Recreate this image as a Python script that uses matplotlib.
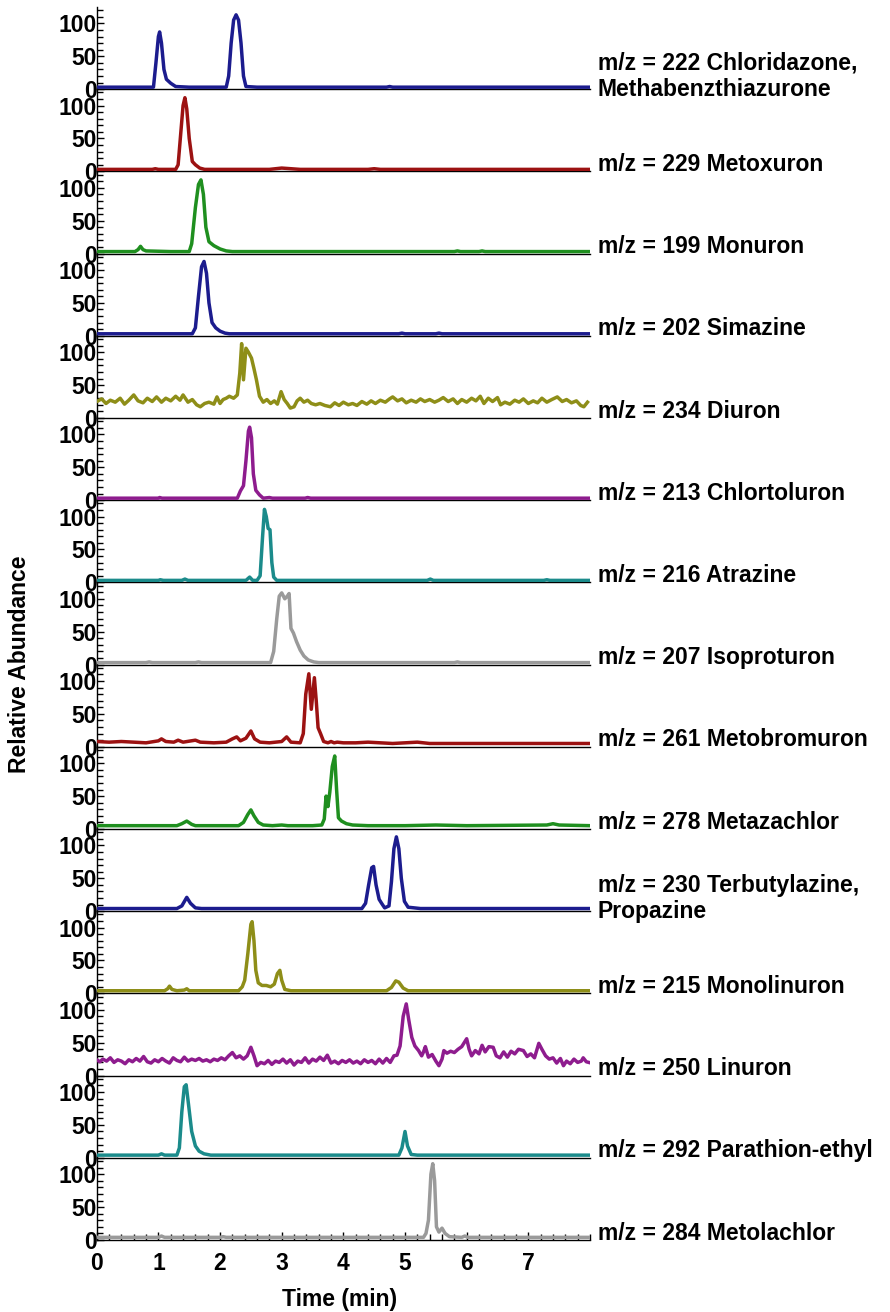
import matplotlib
matplotlib.use("Agg")
import matplotlib.pyplot as plt
from matplotlib.ticker import MultipleLocator

plt.rcParams['font.family'] = ['Liberation Sans', 'DejaVu Sans']
plt.rcParams['font.weight'] = 'bold'

# ion chromatograms (time in min, relative abundance)
t_222 = [0, 0.4, 0.8, 0.92, 0.96, 1.0, 1.02, 1.05, 1.09, 1.13, 1.2, 1.28, 1.5, 2.0, 2.1, 2.14, 2.18, 2.22, 2.26, 2.30, 2.34, 2.38, 2.42, 2.6, 3.5, 4.7, 4.75, 4.8, 6.0, 8.0]
y_222 = [3, 3, 3, 3, 40, 80, 87, 70, 30, 15, 9, 4, 3, 3, 3, 20, 70, 105, 113, 105, 70, 20, 4, 3, 3, 3, 4, 3, 3, 3]

t_229 = [0, 0.9, 0.95, 1.0, 1.28, 1.32, 1.36, 1.40, 1.43, 1.46, 1.5, 1.55, 1.6, 1.67, 1.75, 2.8, 2.9, 3.0, 3.15, 3.3, 4.4, 4.5, 4.6, 8.0]
y_229 = [3, 3, 4, 3, 3, 10, 55, 100, 112, 95, 50, 15, 10, 5, 3, 3, 4, 5, 4, 3, 3, 4, 3, 3]

t_199 = [0, 0.62, 0.67, 0.71, 0.75, 0.8, 1.2, 1.5, 1.54, 1.6, 1.65, 1.69, 1.73, 1.77, 1.82, 1.9, 2.0, 2.1, 2.2, 5.8, 5.85, 5.9, 6.2, 6.25, 6.3, 8.0]
y_199 = [3, 3, 6, 11, 6, 4, 3, 3, 15, 70, 105, 112, 90, 40, 18, 12, 7, 4, 3, 3, 4, 3, 3, 4, 3, 3]

t_202 = [0, 1.55, 1.6, 1.65, 1.7, 1.74, 1.78, 1.82, 1.87, 1.93, 2.0, 2.08, 2.15, 4.9, 4.95, 5.0, 5.5, 5.55, 5.6, 8.0]
y_202 = [3, 3, 12, 60, 105, 113, 95, 50, 20, 12, 7, 4, 3, 3, 4, 3, 3, 4, 3, 3]

t_234 = [0.00, 0.08, 0.15, 0.22, 0.30, 0.38, 0.45, 0.52, 0.60, 0.67, 0.75, 0.82, 0.90, 0.97, 1.05, 1.12, 1.20, 1.28, 1.35, 1.40,
         1.48, 1.55, 1.62, 1.68, 1.75, 1.82, 1.90, 1.95, 2.00, 2.05, 2.10, 2.15, 2.22, 2.28, 2.32, 2.35, 2.38, 2.42, 2.46, 2.51,
         2.55, 2.59, 2.64, 2.70, 2.76, 2.82, 2.88, 2.93, 2.99, 3.04, 3.09, 3.14, 3.20, 3.25, 3.30, 3.36, 3.42, 3.48, 3.55, 3.62,
         3.70, 3.79, 3.86, 3.93, 4.00, 4.08, 4.15, 4.22, 4.30, 4.38, 4.45, 4.52, 4.60, 4.68, 4.75, 4.80, 4.88, 4.95, 5.02, 5.10,
         5.18, 5.25, 5.32, 5.40, 5.48, 5.55, 5.62, 5.70, 5.78, 5.85, 5.92, 6.00, 6.08, 6.15, 6.22, 6.28, 6.35, 6.42, 6.50, 6.55,
         6.62, 6.70, 6.78, 6.85, 6.92, 7.00, 7.08, 7.15, 7.22, 7.30, 7.38, 7.47, 7.55, 7.62, 7.70, 7.78, 7.85, 7.90, 7.96]
y_234 = [25, 29, 22, 27, 24, 30, 21, 27, 35, 26, 23, 30, 25, 32, 24, 30, 26, 33, 27, 35,
         24, 28, 20, 17, 22, 24, 21, 32, 22, 28, 30, 33, 30, 35, 68, 113, 58, 106, 100, 91,
         75, 58, 33, 24, 28, 22, 26, 21, 40, 28, 22, 15, 17, 26, 30, 24, 27, 22, 20, 22,
         19, 17, 23, 19, 24, 20, 22, 19, 25, 21, 26, 22, 27, 24, 29, 32, 26, 29, 23, 27,
         24, 29, 25, 28, 24, 27, 31, 25, 29, 22, 28, 24, 30, 26, 33, 22, 30, 25, 31, 20,
         24, 21, 27, 24, 29, 22, 26, 23, 30, 24, 28, 32, 25, 28, 23, 26, 19, 17, 24]

t_213 = [0, 1.0, 1.02, 1.06, 2.28, 2.33, 2.38, 2.42, 2.46, 2.48, 2.51, 2.54, 2.58, 2.64, 2.7, 2.8, 2.85, 3.38, 3.42, 3.47, 8.0]
y_213 = [3, 3, 4, 3, 3, 14, 22, 60, 105, 111, 95, 40, 15, 8, 3, 4, 3, 3, 4, 3, 3]

t_216 = [0, 1.0, 1.03, 1.08, 1.38, 1.43, 1.48, 2.42, 2.48, 2.53, 2.6, 2.65, 2.69, 2.72, 2.75, 2.78, 2.81, 2.84, 2.87, 2.92,
         5.36, 5.41, 5.46, 7.25, 7.3, 7.35, 8.0]
y_216 = [3, 3, 4, 3, 3, 5, 3, 3, 8, 3, 3, 10, 70, 111, 100, 82, 80, 30, 8, 3,
         3, 5, 3, 3, 4, 3, 3]

t_207 = [0, 0.8, 0.85, 0.9, 1.6, 1.65, 1.7, 2.82, 2.87, 2.92, 2.96, 3.0, 3.05, 3.09, 3.12, 3.15, 3.19, 3.24, 3.3, 3.36,
         3.43, 3.52, 3.6, 5.8, 5.85, 5.9, 8.0]
y_207 = [3, 3, 4, 3, 3, 4, 3, 3, 20, 70, 104, 109, 100, 104, 108, 55, 48, 35, 22, 13,
         7, 4, 3, 3, 4, 3, 3]

t_261 = [0, 0.2, 0.4, 0.6, 0.8, 1.0, 1.05, 1.12, 1.25, 1.32, 1.4, 1.6, 1.68, 1.9, 2.1, 2.2, 2.27, 2.33, 2.42, 2.5,
         2.56, 2.65, 2.8, 3.0, 3.08, 3.15, 3.3, 3.35, 3.39, 3.44, 3.48, 3.53, 3.56, 3.59, 3.63, 3.68, 3.75, 3.8, 3.85, 3.9,
         4.0, 4.2, 4.4, 4.6, 4.8, 5.0, 5.2, 5.4, 5.6, 6.0, 6.4, 6.8, 7.2, 7.6, 8.0]
y_261 = [8, 7, 8, 7, 6, 9, 12, 8, 7, 10, 7, 10, 7, 6, 7, 12, 15, 9, 13, 24,
         12, 7, 6, 8, 15, 7, 6, 20, 80, 111, 57, 105, 70, 29, 20, 8, 6, 8, 6, 7,
         6, 6, 7, 6, 5, 6, 7, 5, 5, 5, 5, 5, 5, 5, 5]

t_278 = [0, 0.5, 1.0, 1.3, 1.38, 1.46, 1.54, 1.6, 2.0, 2.3, 2.38, 2.45, 2.5, 2.55, 2.62, 2.7, 2.85, 3.0, 3.1, 3.5,
         3.65, 3.69, 3.72, 3.75, 3.78, 3.82, 3.86, 3.89, 3.92, 3.97, 4.05, 4.15, 4.4, 5.0, 5.5, 6.0, 7.3, 7.4, 7.5, 8.0]
y_278 = [5, 5, 5, 5, 8, 12, 7, 5, 5, 5, 10, 22, 29, 20, 10, 6, 5, 6, 5, 5,
         6, 15, 50, 34, 56, 95, 111, 60, 17, 12, 8, 6, 5, 5, 6, 5, 6, 8, 6, 5]

t_230 = [0, 1.3, 1.38, 1.46, 1.52, 1.6, 1.7, 4.3, 4.36, 4.41, 4.46, 4.49, 4.53, 4.58, 4.62, 4.67, 4.74, 4.78, 4.82, 4.86,
         4.9, 4.94, 4.99, 5.05, 5.15, 5.25, 8.0]
y_230 = [4, 4, 8, 21, 12, 5, 4, 4, 12, 40, 66, 68, 40, 18, 12, 5, 8, 45, 95, 113,
         95, 50, 15, 6, 5, 4, 4]

t_215 = [0, 1.1, 1.15, 1.18, 1.22, 1.3, 1.42, 1.46, 1.5, 2.3, 2.36, 2.4, 2.45, 2.5, 2.52, 2.55, 2.58, 2.62, 2.68, 2.75,
         2.82, 2.88, 2.93, 2.97, 3.0, 3.05, 3.15, 4.7, 4.78, 4.85, 4.9, 4.97, 5.05, 8.0]
y_215 = [4, 4, 7, 11, 6, 4, 5, 7, 4, 4, 10, 20, 60, 105, 109, 80, 35, 16, 12, 12,
         10, 14, 30, 35, 20, 6, 4, 4, 9, 19, 17, 8, 4, 4]

t_250 = [0.00, 0.05, 0.10, 0.16, 0.22, 0.28, 0.34, 0.40, 0.46, 0.52, 0.58, 0.64, 0.70, 0.76, 0.82, 0.88, 0.94, 1.00, 1.06, 1.12,
         1.18, 1.24, 1.30, 1.36, 1.42, 1.48, 1.54, 1.60, 1.66, 1.72, 1.78, 1.84, 1.90, 1.96, 2.02, 2.08, 2.14, 2.20, 2.26, 2.32,
         2.38, 2.44, 2.50, 2.55, 2.60, 2.66, 2.72, 2.78, 2.84, 2.90, 2.96, 3.02, 3.08, 3.14, 3.20, 3.26, 3.32, 3.38, 3.44, 3.50,
         3.56, 3.62, 3.68, 3.74, 3.80, 3.86, 3.92, 3.98, 4.04, 4.10, 4.16, 4.22, 4.28, 4.34, 4.40, 4.46, 4.52, 4.58, 4.64, 4.70,
         4.76, 4.82, 4.87, 4.92, 4.97, 5.02, 5.06, 5.11, 5.16, 5.22, 5.27, 5.30, 5.33, 5.38, 5.44, 5.50, 5.55, 5.60, 5.63, 5.68,
         5.74, 5.80, 5.86, 5.92, 5.96, 6.00, 6.04, 6.08, 6.14, 6.20, 6.25, 6.30, 6.36, 6.43, 6.48, 6.54, 6.60, 6.66, 6.72, 6.78,
         6.84, 6.92, 6.98, 7.04, 7.10, 7.17, 7.22, 7.28, 7.34, 7.40, 7.46, 7.52, 7.57, 7.62, 7.68, 7.74, 7.80, 7.86, 7.89, 7.94, 7.98]
y_250 = [24, 21, 25, 22, 27, 20, 24, 22, 18, 24, 21, 26, 22, 29, 21, 19, 24, 21, 26, 22,
         19, 27, 23, 21, 28, 22, 25, 23, 26, 22, 24, 21, 25, 23, 27, 24, 30, 35, 27, 30,
         25, 30, 43, 30, 15, 20, 18, 23, 17, 22, 20, 25, 19, 24, 16, 22, 20, 27, 19, 25,
         22, 28, 23, 31, 19, 22, 18, 23, 20, 24, 19, 22, 18, 24, 20, 23, 18, 25, 19, 26,
         20, 30, 31, 45, 90, 109, 85, 58, 45, 38, 30, 36, 44, 28, 32, 22, 15, 25, 38, 34,
         37, 35, 40, 44, 50, 56, 40, 30, 38, 33, 46, 36, 44, 43, 30, 27, 36, 28, 37, 33,
         40, 38, 29, 33, 27, 49, 40, 30, 25, 27, 19, 26, 15, 22, 18, 25, 20, 22, 27, 21, 20]

t_292 = [0, 0.5, 1.0, 1.05, 1.1, 1.3, 1.34, 1.38, 1.42, 1.45, 1.49, 1.54, 1.6, 1.66, 1.74, 1.85, 2.5, 3.5, 4.9, 4.95,
         5.0, 5.04, 5.1, 5.2, 8.0]
y_292 = [4, 4, 4, 6, 4, 4, 15, 70, 108, 111, 80, 40, 18, 10, 6, 4, 4, 4, 4, 15,
         40, 18, 5, 4, 4]

t_284 = [0, 1.0, 1.05, 1.1, 2.0, 2.05, 2.1, 5.3, 5.34, 5.38, 5.42, 5.45, 5.48, 5.51, 5.55, 5.6, 5.65, 5.72, 5.92, 5.97, 6.02, 8.0]
y_284 = [4, 4, 6, 4, 4, 5, 4, 4, 10, 30, 100, 116, 90, 20, 12, 18, 10, 5, 4, 6, 4, 4]

labels = ["m/z = 222 Chloridazone,\nMethabenzthiazurone", "m/z = 229 Metoxuron", "m/z = 199 Monuron",
          "m/z = 202 Simazine", "m/z = 234 Diuron", "m/z = 213 Chlortoluron", "m/z = 216 Atrazine",
          "m/z = 207 Isoproturon", "m/z = 261 Metobromuron", "m/z = 278 Metazachlor",
          "m/z = 230 Terbutylazine,\nPropazine", "m/z = 215 Monolinuron", "m/z = 250 Linuron",
          "m/z = 292 Parathion-ethyl", "m/z = 284 Metolachlor"]

navy, red, green, olive, purple, teal, grey = '#1c1c8e', '#9c1212', '#1f8f1f', '#8e8e18', '#8e1c8e', '#1b8b8b', '#9a9a9a'
colors = [navy, red, green, navy, olive, purple, teal, grey, red, green, navy, olive, purple, teal, grey]

traces = [(t_222, y_222), (t_229, y_229), (t_199, y_199), (t_202, y_202), (t_234, y_234),
          (t_213, y_213), (t_216, y_216), (t_207, y_207), (t_261, y_261), (t_278, y_278),
          (t_230, y_230), (t_215, y_215), (t_250, y_250), (t_292, y_292), (t_284, y_284)]

fig = plt.figure(figsize=(8.9, 13.12), dpi=100)
gs = fig.add_gridspec(15, 1, left=0.1087, right=0.6629, bottom=0.0549, top=0.9947, hspace=0)

fs = 16.5
for i, ((t, y), c, lab) in enumerate(zip(traces, colors, labels)):
    ax = fig.add_subplot(gs[i])
    ax.plot(t, y, color=c, lw=2.5, solid_joinstyle='round', zorder=3)
    ax.set_xlim(0, 8.0)
    ax.set_ylim(0, 125)
    for s in ['top', 'right']:
        ax.spines[s].set_visible(False)
    ax.spines['left'].set_linewidth(1.0)
    ax.spines['bottom'].set_linewidth(1.0)
    ax.set_yticks([0, 50, 100])
    ax.yaxis.set_minor_locator(MultipleLocator(10))
    ax.tick_params(axis='y', which='both', direction='in', labelsize=fs, pad=0, width=1)
    ax.tick_params(axis='y', which='major', length=5)
    ax.tick_params(axis='y', which='minor', length=4)
    ax.patch.set_visible(False)
    if i < 14:
        ax.tick_params(axis='x', which='both', bottom=False, labelbottom=False)
    else:
        ax.set_xticks(range(0, 8))
        ax.xaxis.set_minor_locator(MultipleLocator(0.2))
        ax.tick_params(axis='x', which='both', direction='in', labelsize=fs, width=1, pad=9)
        ax.tick_params(axis='x', which='major', length=6)
        ax.tick_params(axis='x', which='minor', length=4)
    ty = 19 if '\n' in lab else 10.5
    ax.text(1.016, ty, lab, transform=ax.get_yaxis_transform(), ha='left', va='center',
            fontsize=fs, fontweight='bold', linespacing=1.2, clip_on=False)

fig.text(0.381, 0.0095, 'Time (min)', ha='center', va='center', fontsize=fs, fontweight='bold')
fig.text(0.022, 0.494, 'Relative Abundance', ha='center', va='center', rotation=90,
         fontsize=fs, fontweight='bold')

fig.savefig('out.png', dpi=100)
